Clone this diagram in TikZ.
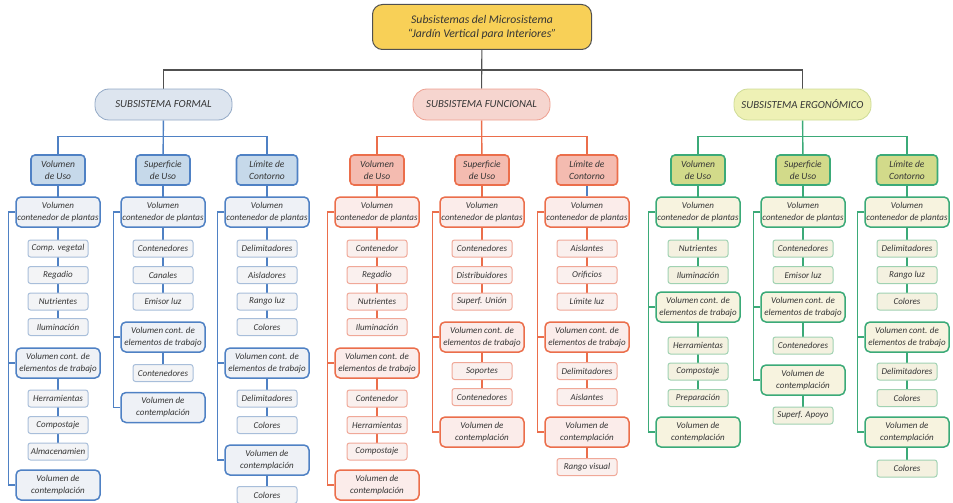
\documentclass[tikz,border=0pt]{standalone}
\usepackage{fontspec}
\setmainfont{Carlito}
\usetikzlibrary{backgrounds}

% colours of the three subsystems
\definecolor{titleFill}{HTML}{F8D057}
\definecolor{titleEdge}{HTML}{505050}
\definecolor{inkGray}{HTML}{353535}

\definecolor{formalLine}{HTML}{4F81C4}
\definecolor{formalTop}{HTML}{DDE5EF}
\definecolor{formalTopEdge}{HTML}{93A9C6}
\definecolor{formalTwo}{HTML}{C6D9EA}
\definecolor{formalThree}{HTML}{EEF1F6}
\definecolor{formalLeaf}{HTML}{F3F4F6}
\definecolor{formalLeafEdge}{HTML}{A8BEDA}

\definecolor{funcLine}{HTML}{EB6E4B}
\definecolor{funcTop}{HTML}{F6D5CF}
\definecolor{funcTopEdge}{HTML}{EE9F90}
\definecolor{funcTwo}{HTML}{F4BBB0}
\definecolor{funcThree}{HTML}{FBECEA}
\definecolor{funcLeaf}{HTML}{FAF0EE}
\definecolor{funcLeafEdge}{HTML}{F0A898}

\definecolor{ergoLine}{HTML}{3BAA78}
\definecolor{ergoTop}{HTML}{EEF1B5}
\definecolor{ergoTopEdge}{HTML}{CEDB96}
\definecolor{ergoTwo}{HTML}{D2DA8A}
\definecolor{ergoThree}{HTML}{F7F3DF}
\definecolor{ergoLeaf}{HTML}{F4F1E0}
\definecolor{ergoLeafEdge}{HTML}{A0D2B2}

\tikzset{
  top line/.style={draw=titleEdge, line width=1.1pt},
  tree line/.style={draw=#1Line, line width=1.4pt},
  title box/.style={draw=titleEdge, fill=titleFill, line width=1pt, rounded corners=10pt,
    minimum width=219pt, minimum height=45pt, align=center, text=inkGray,
    font=\fontsize{11.7}{14}\selectfont\itshape},
  subsys/.style={draw=#1TopEdge, fill=#1Top, line width=0.8pt, rounded corners=14pt,
    minimum width=137pt, minimum height=31pt, text=inkGray,
    font=\fontsize{10.8}{12}\selectfont\itshape},
  lvtwo/.style={draw=#1Line, fill=#1Two, line width=1.6pt, rounded corners=4pt,
    minimum width=54pt, minimum height=30pt, inner sep=2pt, align=center, text=inkGray,
    font=\fontsize{9.5}{12}\selectfont\itshape},
  lvthree/.style={draw=#1Line, fill=#1Three, line width=1.5pt, rounded corners=5pt,
    minimum width=84pt, minimum height=30pt, inner sep=1pt, align=center, text=inkGray,
    font=\fontsize{9}{12}\selectfont\itshape},
  leaf/.style={draw=#1LeafEdge, fill=#1Leaf, line width=1pt, rounded corners=2.5pt,
    minimum width=60pt, minimum height=17pt, inner sep=1pt, text=inkGray,
    font=\fontsize{9}{10}\selectfont\itshape},
}

\begin{document}
\begin{tikzpicture}[x=1pt, y=-1pt]
    \useasboundingbox (0,0) rectangle (953,503);

    % Microsystem and its three subsystems
    \node[title box] (title) at (482,27) {Subsistemas del Microsistema\\“Jardín Vertical para Interiores”};
    \coordinate (hub) at (482,70);
    \node[subsys=formal] (formal) at (163.5,104.5) {SUBSISTEMA FORMAL};
    \node[subsys=func] (funcional) at (481.5,104.5) {SUBSISTEMA FUNCIONAL};
    \node[subsys=ergo] (ergo) at (802.5,104.5) {SUBSISTEMA ERGONÓMICO};

    % ---------------- Formal ----------------
    \coordinate (fbar) at (163,136.5);
    \node[lvtwo=formal] (fu) at (58,170) {Volumen\\de Uso};
    \node[lvtwo=formal] (fs) at (163,170) {Superficie\\de Uso};
    \node[lvtwo=formal, minimum width=61pt] (fc) at (267,170) {Límite de\\Contorno};

    % Volumen de Uso
    \node[lvthree=formal] (fup) at (58,212) {Volumen\\contenedor de plantas};
    \node[leaf=formal] (fup1) at (58,248.5) {Comp. vegetal};
    \node[leaf=formal] (fup2) at (58,275) {Regadio};
    \node[leaf=formal] (fup3) at (58,301.5) {Nutrientes};
    \node[leaf=formal] (fup4) at (58,327) {Iluminación};
    \node[lvthree=formal] (fut) at (58,363) {Volumen cont. de\\elementos de trabajo};
    \node[leaf=formal] (fut1) at (58,398.5) {Herramientas};
    \node[leaf=formal] (fut2) at (58,425) {Compostaje};
    \node[leaf=formal] (fut3) at (58,451.5) {Almacenamien};
    \node[lvthree=formal] (fuv) at (58,485) {Volumen de\\contemplación};

    % Superficie de Uso
    \node[lvthree=formal] (fsp) at (163,212) {Volumen\\contenedor de plantas};
    \node[leaf=formal] (fsp1) at (163,248.5) {Contenedores};
    \node[leaf=formal] (fsp2) at (163,275) {Canales};
    \node[leaf=formal] (fsp3) at (163,301.5) {Emisor luz};
    \node[lvthree=formal] (fst) at (163,337) {Volumen cont. de\\elementos de trabajo};
    \node[leaf=formal] (fst1) at (163,373) {Contenedores};
    \node[lvthree=formal] (fsv) at (163,407.5) {Volumen de\\contemplación};

    % Limite de Contorno
    \node[lvthree=formal] (fcp) at (267,212) {Volumen\\contenedor de plantas};
    \node[leaf=formal] (fcp1) at (267,248.5) {Delimitadores};
    \node[leaf=formal] (fcp2) at (267,275) {Aisladores};
    \node[leaf=formal] (fcp3) at (267,301.5) {Rango luz};
    \node[leaf=formal] (fcp4) at (267,327) {Colores};
    \node[lvthree=formal] (fct) at (267,363) {Volumen cont. de\\elementos de trabajo};
    \node[leaf=formal] (fct1) at (267,398.5) {Delimitadores};
    \node[leaf=formal] (fct2) at (267,425) {Colores};
    \node[lvthree=formal] (fcv) at (267,460) {Volumen de\\contemplación};
    \node[leaf=formal] (fcv1) at (267,495) {Colores};

    % ---------------- Funcional ----------------
    \coordinate (nbar) at (482,136.5);
    \node[lvtwo=func] (nu) at (377,170) {Volumen\\de Uso};
    \node[lvtwo=func] (ns) at (482,170) {Superficie\\de Uso};
    \node[lvtwo=func, minimum width=61pt] (nc) at (587,170) {Límite de\\Contorno};

    % Volumen de Uso
    \node[lvthree=func] (nup) at (377,212) {Volumen\\contenedor de plantas};
    \node[leaf=func] (nup1) at (377,248.5) {Contenedor};
    \node[leaf=func] (nup2) at (377,275) {Regadio};
    \node[leaf=func] (nup3) at (377,301.5) {Nutrientes};
    \node[leaf=func] (nup4) at (377,327) {Iluminación};
    \node[lvthree=func] (nut) at (377,363) {Volumen cont. de\\elementos de trabajo};
    \node[leaf=func] (nut1) at (377,398.5) {Contenedor};
    \node[leaf=func] (nut2) at (377,425) {Herramientas};
    \node[leaf=func] (nut3) at (377,451.5) {Compostaje};
    \node[lvthree=func] (nuv) at (377,485) {Volumen de\\contemplación};

    % Superficie de Uso
    \node[lvthree=func] (nsp) at (482,212) {Volumen\\contenedor de plantas};
    \node[leaf=func] (nsp1) at (482,248.5) {Contenedores};
    \node[leaf=func] (nsp2) at (482,275) {Distribuidores};
    \node[leaf=func] (nsp3) at (482,301.5) {Superf. Unión};
    \node[lvthree=func] (nst) at (482,337) {Volumen cont. de\\elementos de trabajo};
    \node[leaf=func] (nst1) at (482,371) {Soportes};
    \node[leaf=func] (nst2) at (482,397) {Contenedores};
    \node[lvthree=func] (nsv) at (482,432) {Volumen de\\contemplación};

    % Limite de Contorno
    \node[lvthree=func] (ncp) at (587,212) {Volumen\\contenedor de plantas};
    \node[leaf=func] (ncp1) at (587,248.5) {Aislantes};
    \node[leaf=func] (ncp2) at (587,275) {Orificios};
    \node[leaf=func] (ncp3) at (587,301.5) {Límite luz};
    \node[lvthree=func] (nct) at (587,337) {Volumen cont. de\\elementos de trabajo};
    \node[leaf=func] (nct1) at (587,371) {Delimitadores};
    \node[leaf=func] (nct2) at (587,397) {Aislantes};
    \node[lvthree=func] (ncv) at (587,432) {Volumen de\\contemplación};
    \node[leaf=func] (ncv1) at (587,467) {Rango visual};

    % ---------------- Ergonomico ----------------
    \coordinate (ebar) at (803,136.5);
    \node[lvtwo=ergo] (eu) at (698,170) {Volumen\\de Uso};
    \node[lvtwo=ergo] (es) at (803,170) {Superficie\\de Uso};
    \node[lvtwo=ergo, minimum width=61pt] (ec) at (907,170) {Límite de\\Contorno};

    % Volumen de Uso
    \node[lvthree=ergo] (eup) at (698,212) {Volumen\\contenedor de plantas};
    \node[leaf=ergo] (eup1) at (698,248.5) {Nutrientes};
    \node[leaf=ergo] (eup2) at (698,275) {Iluminación};
    \node[lvthree=ergo] (eut) at (698,307) {Volumen cont. de\\elementos de trabajo};
    \node[leaf=ergo] (eut1) at (698,345.5) {Herramientas};
    \node[leaf=ergo] (eut2) at (698,371.5) {Compostaje};
    \node[leaf=ergo] (eut3) at (698,398) {Preparación};
    \node[lvthree=ergo] (euv) at (698,432) {Volumen de\\contemplación};

    % Superficie de Uso
    \node[lvthree=ergo] (esp) at (803,212) {Volumen\\contenedor de plantas};
    \node[leaf=ergo] (esp1) at (803,248.5) {Contenedores};
    \node[leaf=ergo] (esp2) at (803,275) {Emisor luz};
    \node[lvthree=ergo] (est) at (803,307) {Volumen cont. de\\elementos de trabajo};
    \node[leaf=ergo] (est1) at (803,345.5) {Contenedores};
    \node[lvthree=ergo] (esv) at (803,380) {Volumen de\\contemplación};
    \node[leaf=ergo] (esv1) at (803,415.5) {Superf. Apoyo};

    % Limite de Contorno
    \node[lvthree=ergo] (ecp) at (907,212) {Volumen\\contenedor de plantas};
    \node[leaf=ergo] (ecp1) at (907,248.5) {Delimitadores};
    \node[leaf=ergo] (ecp2) at (907,275) {Rango luz};
    \node[leaf=ergo] (ecp3) at (907,301.5) {Colores};
    \node[lvthree=ergo] (ect) at (907,337) {Volumen cont. de\\elementos de trabajo};
    \node[leaf=ergo] (ect1) at (907,371.5) {Delimitadores};
    \node[leaf=ergo] (ect2) at (907,398) {Colores};
    \node[lvthree=ergo] (ecv) at (907,432) {Volumen de\\contemplación};
    \node[leaf=ergo] (ecv1) at (907,468.5) {Colores};

    % Connectors (behind the boxes)
    \begin{scope}[on background layer]
        \draw[top line] (title) -- (funcional);
        \draw[top line] (formal) |- (hub) -| (ergo);

        % formal
        \draw[tree line=formal] (formal) -- (fs);
        \draw[tree line=formal] (fu) |- (fbar) -| (fc);
        \draw[tree line=formal] (fu) -- (fup4);
        \draw[tree line=formal] (fut) -- (fut3);
        \draw[tree line=formal] (fup.west) -- ++(-7,0) coordinate (fus) |- (fuv.west);
        \draw[tree line=formal] (fus |- fut.west) -- (fut.west);
        \draw[tree line=formal] (fs) -- (fsp3);
        \draw[tree line=formal] (fst) -- (fst1);
        \draw[tree line=formal] (fsp.west) -- ++(-7,0) coordinate (fss) |- (fsv.west);
        \draw[tree line=formal] (fss |- fst.west) -- (fst.west);
        \draw[tree line=formal] (fc) -- (fcp4);
        \draw[tree line=formal] (fct) -- (fct2);
        \draw[tree line=formal] (fcv) -- (fcv1);
        \draw[tree line=formal] (fcp.west) -- ++(-7,0) coordinate (fcs) |- (fcv.west);
        \draw[tree line=formal] (fcs |- fct.west) -- (fct.west);

        % funcional
        \draw[tree line=func] (funcional) -- (ns);
        \draw[tree line=func] (nu) |- (nbar) -| (nc);
        \draw[tree line=func] (nu) -- (nup4);
        \draw[tree line=func] (nut) -- (nut3);
        \draw[tree line=func] (nup.west) -- ++(-7,0) coordinate (nus) |- (nuv.west);
        \draw[tree line=func] (nus |- nut.west) -- (nut.west);
        \draw[tree line=func] (ns) -- (nsp3);
        \draw[tree line=func] (nst) -- (nst2);
        \draw[tree line=func] (nsp.west) -- ++(-7,0) coordinate (nss) |- (nsv.west);
        \draw[tree line=func] (nss |- nst.west) -- (nst.west);
        \draw[tree line=formal] (nc) -- (ncp);
        \draw[tree line=func] (ncp) -- (ncp3);
        \draw[tree line=func] (nct) -- (nct2);
        \draw[tree line=func] (ncv) -- (ncv1);
        \draw[tree line=func] (ncp.west) -- ++(-7,0) coordinate (ncs) |- (ncv.west);
        \draw[tree line=func] (ncs |- nct.west) -- (nct.west);

        % ergonomico
        \draw[tree line=ergo] (ergo) -- (es);
        \draw[tree line=ergo] (eu) |- (ebar) -| (ec);
        \draw[tree line=ergo] (eu) -- (eup2);
        \draw[tree line=ergo] (eut) -- (eut3);
        \draw[tree line=ergo] (eup.west) -- ++(-7,0) coordinate (eus) |- (euv.west);
        \draw[tree line=ergo] (eus |- eut.west) -- (eut.west);
        \draw[tree line=ergo] (es) -- (esp2);
        \draw[tree line=ergo] (est) -- (est1);
        \draw[tree line=ergo] (esv) -- (esv1);
        \draw[tree line=ergo] (esp.west) -- ++(-7,0) coordinate (ess) |- (esv.west);
        \draw[tree line=ergo] (ess |- est.west) -- (est.west);
        \draw[tree line=ergo] (ec) -- (ecp3);
        \draw[tree line=ergo] (ect) -- (ect2);
        \draw[tree line=ergo] (ecv) -- (ecv1);
        \draw[tree line=ergo] (ecp.west) -- ++(-7,0) coordinate (ecs) |- (ecv.west);
        \draw[tree line=ergo] (ecs |- ect.west) -- (ect.west);
    \end{scope}

\end{tikzpicture}
\end{document}
